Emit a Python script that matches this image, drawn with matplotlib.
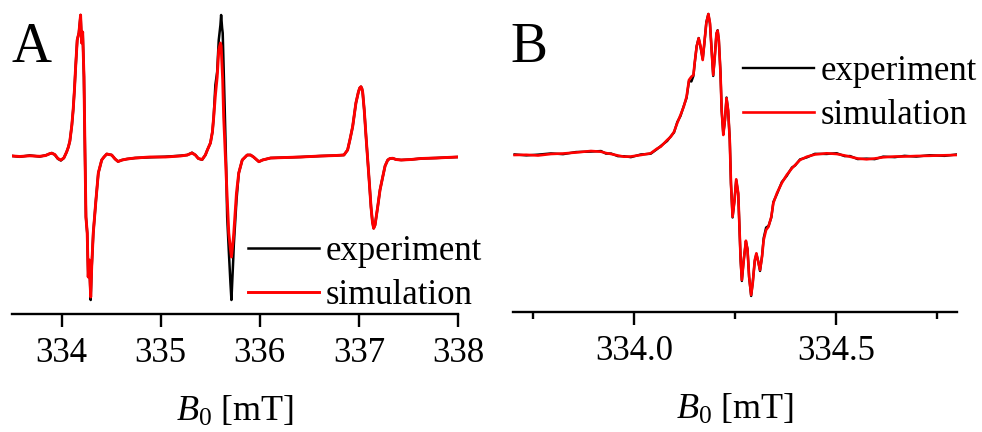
import matplotlib
matplotlib.use('Agg')
import matplotlib.pyplot as plt
from matplotlib.ticker import MultipleLocator, FormatStrFormatter

plt.rcParams['font.family'] = ['Liberation Serif', 'DejaVu Serif']
plt.rcParams['mathtext.fontset'] = 'custom'
plt.rcParams['mathtext.rm'] = 'Liberation Serif'
plt.rcParams['mathtext.it'] = 'Liberation Serif:italic'

# ---- panel A: full spectrum (field in mT, intensity in arb. units) ----
field_a = [333.507, 333.578, 333.679, 333.780, 333.841, 333.882, 333.902, 333.932,
           333.963, 333.993, 334.023, 334.051, 334.069, 334.084, 334.104, 334.117,
           334.130, 334.142, 334.158, 334.175, 334.192, 334.203, 334.213, 334.226,
           334.236, 334.246, 334.259, 334.269, 334.279, 334.294, 334.304, 334.320,
           334.347, 334.371, 334.405, 334.428, 334.456, 334.479, 334.506, 334.540,
           334.570, 334.611, 334.661, 334.742, 334.894, 335.046, 335.198, 335.269,
           335.316, 335.350, 335.380, 335.418, 335.451, 335.471, 335.502, 335.522,
           335.535, 335.552, 335.570, 335.586, 335.603, 335.610, 335.620, 335.626,
           335.636, 335.644, 335.661, 335.671, 335.687, 335.704, 335.714, 335.732,
           335.738, 335.765, 335.788, 335.823, 335.873, 335.907, 335.937, 335.991,
           336.028, 336.109, 336.261, 336.413, 336.616, 336.768, 336.849, 336.886,
           336.909, 336.937, 336.970, 336.995, 337.008, 337.021, 337.030, 337.038,
           337.054, 337.071, 337.089, 337.107, 337.122, 337.137, 337.149, 337.163,
           337.190, 337.213, 337.241, 337.264, 337.291, 337.314, 337.342, 337.375,
           337.426, 337.527, 337.628, 337.780, 337.881, 337.998]
sim_a = [0, -0.5, 0.2, -0.3, 0.5, 2.5, 2.7, 1.5,
         -2.5, -4, -2, 4, 9, 15, 31, 46,
         66, 89, 116, 123, 141, 113, 124, 79,
         6, -61, -77, -121, -104, -141, -111, -77,
         -44, -17, -4, -1, 2, 1.5, 1, -3,
         -5.5, -4, -3, -2, -1, -1, 0, 1,
         3, 1, -2.5, -3.5, 1, 6, 13, 24,
         39, 61, 79, 106, 113, 110, 89, 76,
         39, 21, -19, -42, -77, -93, -101, -84,
         -77, -37, -17, -4, 1, 1, -1, -5.7,
         -4, -2, -1.5, -1, 0, 0.5, 1, 6,
         16, 29.3, 53, 64, 68, 69.3, 67.5, 64,
         46, 21, -4, -29, -50.7, -66, -72.3, -69,
         -50.7, -34, -20.7, -10, -4, -2.5, -2.3, -3.5,
         -4, -3.5, -2.5, -2, -1.5, -1]
exp_a = [0, -0.8, 0.6, -0.6, 0.8, 2.2, 3.0, 1.2,
         -2.8, -4.5, -2, 4, 9, 15, 31, 46,
         66, 89, 116, 123, 141, 113, 124, 79,
         6, -61, -77, -121, -104, -144, -111, -77,
         -44, -17, -4, -1, 2, 1.5, 1, -3,
         -5.5, -4, -3, -2, -1.3, -0.7, 0.3, 1,
         3.3, 1, -2.5, -3.8, 1, 6, 13, 24,
         39, 71, 84, 116, 131, 141, 128, 123,
         86, 56, -11, -61, -94, -127, -144, -104,
         -89, -44, -17, -4, 1, 1, -1, -5.7,
         -4, -2, -1.5, -1, 0, 0.5, 1, 6,
         16, 29.3, 53, 64, 68, 69.3, 67.5, 64,
         46, 21, -4, -29, -50.7, -66, -72.3, -69,
         -50.7, -34, -20.7, -10, -4, -2.5, -2.3, -3.5,
         -4, -3.5, -2.5, -2, -1.5, -1]

# ---- panel B: central line, resolved hyperfine structure ----
field_b = [333.704, 333.733, 333.762, 333.794, 333.824, 333.856, 333.893, 333.918,
           333.930, 333.943, 333.960, 333.975, 333.992, 334.017, 334.041, 334.058,
           334.066, 334.082, 334.091, 334.099, 334.107, 334.115, 334.123, 334.130,
           334.136, 334.142, 334.147, 334.150, 334.155, 334.160, 334.165, 334.170,
           334.174, 334.179, 334.184, 334.188, 334.192, 334.196, 334.200, 334.204,
           334.207, 334.210, 334.214, 334.217, 334.221, 334.225, 334.229, 334.233,
           334.237, 334.240, 334.244, 334.249, 334.253, 334.258, 334.261, 334.264,
           334.267, 334.271, 334.277, 334.281, 334.285, 334.290, 334.294, 334.299,
           334.303, 334.308, 334.312, 334.317, 334.321, 334.327, 334.333, 334.340,
           334.345, 334.354, 334.366, 334.378, 334.391, 334.399, 334.411, 334.428,
           334.448, 334.477, 334.502, 334.522, 334.535, 334.554, 334.576, 334.596,
           334.617, 334.646, 334.670, 334.699, 334.732, 334.769, 334.798]
sim_b = [0, 0.2, -0.5, 1, 1.5, 2.5, 4, 3.3,
         2, 1, -0.5, -1.7, -1.5, 0, 1.7, 6.7,
         8.3, 15, 18.3, 23.3, 32, 40, 48.3, 58.3,
         75, 78.3, 80, 92, 108.3, 116.7, 108.3, 95,
         112, 132, 141, 132, 105, 80, 98.3, 121.7,
         124.3, 115, 82, 45, 20, 35, 56.7, 45,
         15, -28, -61.7, -45, -24.3, -38, -71.7, -105,
         -125, -108, -85.7, -95, -121.7, -140, -128, -105,
         -98.3, -108, -115, -101.7, -85, -75, -71.7, -61.7,
         -48, -38, -28, -20, -13.3, -10, -5, -1.7,
         0.5, 1.7, 1, -0.5, -1.7, -3.5, -4.3, -3.5,
         -2.3, -1.5, -1.5, -1, -0.8, -0.3, 0]
exp_b = [0.6, -0.4, 0.4, 1.6, 0.8, 3.0, 3.4, 4.0,
         1.4, 1.5, -1.2, -1.2, -2.2, 0.6, 1.2, 6.2,
         9.0, 14, 18.8, 22.5, 33, 39, 49, 57,
         74, 73.5, 79, 91, 109, 117, 107, 96,
         111, 133, 141, 131, 106, 79, 99, 121,
         124.8, 114, 83, 44, 21, 34, 57.5, 44,
         16, -29, -62.5, -44, -25, -39, -72, -106,
         -126, -107, -86.5, -94, -122.5, -141, -127, -106,
         -99, -107, -116, -101, -83, -72.5, -71, -62.5,
         -47, -39, -27, -21, -12.5, -10.5, -4.4, -2.4,
         1.2, 1.0, 1.8, -1.2, -1.0, -4.1, -3.6, -4.2,
         -1.6, -2.2, -0.8, -1.6, -0.2, -0.9, 0.5]

xlim_a = (333.5, 338.0)
xlim_b = (333.70, 334.80)
ylim_a = (-158, 156)
ylim_b = (-157, 155)


def style_axis(ax):
    for side in ['left', 'right', 'top']:
        ax.spines[side].set_visible(False)
    ax.spines['bottom'].set_linewidth(1.7)
    ax.set_yticks([])
    ax.tick_params(axis='x', which='major', direction='out', length=9.4, width=1.7,
                   pad=7, labelsize=25)
    ax.tick_params(axis='x', which='minor', direction='out', length=5, width=1.7)
    ax.set_xlabel(r'$B_{\mathit{0}}$ [mT]', fontsize=26, labelpad=18)


fig = plt.figure(figsize=(9.82, 4.32), dpi=100)

ax1 = fig.add_axes([12 / 982, 118 / 432, 446 / 982, 314 / 432])
ax1.plot(field_a, exp_a, color='black', lw=1.8, label='experiment')
ax1.plot(field_a, sim_a, color='#ff0000', lw=2.1, label='simulation')
ax1.set_xlim(*xlim_a)
ax1.set_ylim(*ylim_a)
ax1.xaxis.set_major_locator(MultipleLocator(1))
style_axis(ax1)
ax1.legend(loc='upper left', bbox_to_anchor=(248 / 982, 1 - 235 / 432),
           bbox_transform=fig.transFigure, frameon=False, fontsize=25,
           handlelength=2.05, handletextpad=0.18, labelspacing=0.31,
           borderpad=0, borderaxespad=0)

ax2 = fig.add_axes([513 / 982, 120 / 432, 444 / 982, 312 / 432])
ax2.plot(field_b, exp_b, color='black', lw=1.7, label='experiment')
ax2.plot(field_b, sim_b, color='#ff0000', lw=1.9, label='simulation')
ax2.set_xlim(*xlim_b)
ax2.set_ylim(*ylim_b)
ax2.xaxis.set_major_locator(MultipleLocator(0.5))
ax2.xaxis.set_minor_locator(MultipleLocator(0.25))
ax2.xaxis.set_major_formatter(FormatStrFormatter('%.1f'))
style_axis(ax2)
ax2.legend(loc='upper left', bbox_to_anchor=(743 / 982, 1 - 55 / 432),
           bbox_transform=fig.transFigure, frameon=False, fontsize=25,
           handlelength=2.05, handletextpad=0.2, labelspacing=0.31,
           borderpad=0, borderaxespad=0)

fig.text(12 / 982, 1 - 62 / 432, 'A', fontsize=40, va='baseline', ha='left')
fig.text(510 / 982, 1 - 62 / 432, 'B', fontsize=40, va='baseline', ha='left')

fig.savefig('out.png', dpi=100)
